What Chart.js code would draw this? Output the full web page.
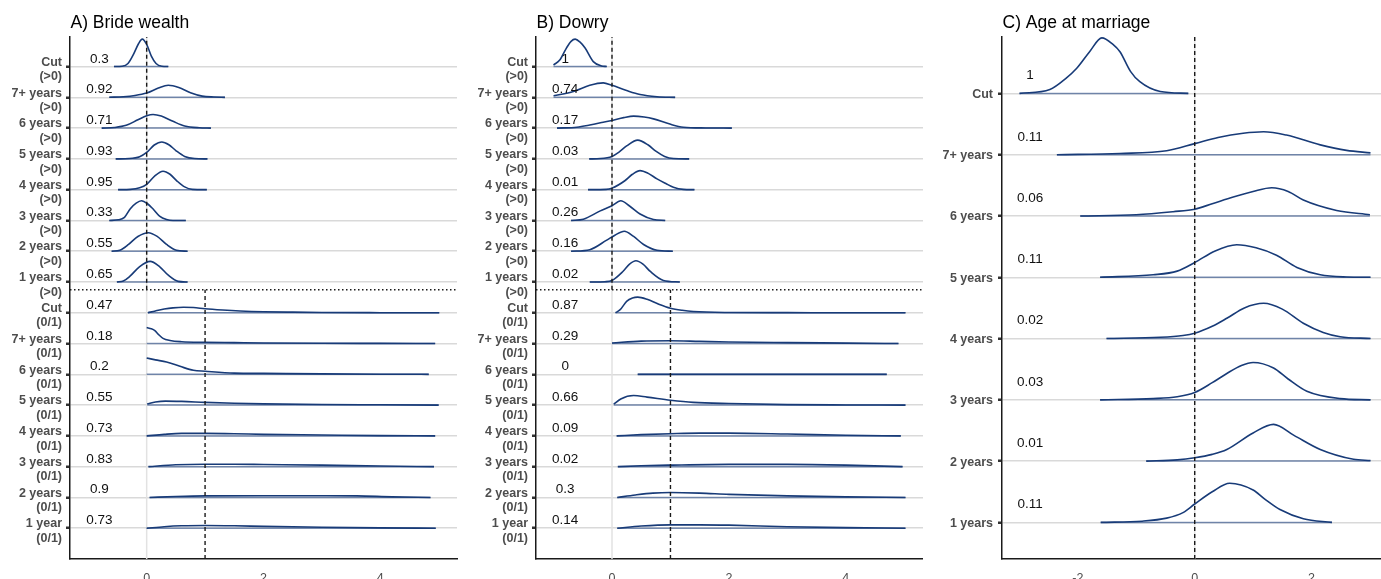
<!DOCTYPE html>
<html>
<head>
<meta charset="utf-8">
<script src="https://cdn.jsdelivr.net/npm/chart.js@4.4.0/dist/chart.umd.min.js"></script>
<style>
  body { margin: 0; background: #fff; width: 1381px; height: 579px; overflow: hidden; position: relative; }
  canvas { position: absolute; top: 0; }
</style>
</head>
<body>
<canvas id="bw" width="460" height="579" style="left:0"></canvas>
<canvas id="dw" width="463" height="579" style="left:460px"></canvas>
<canvas id="am" width="458" height="579" style="left:923px"></canvas>
<script>
// ---- categories (top row first) ----
const rowsAB = [
  'Cut\n(>0)', '7+ years\n(>0)', '6 years\n(>0)', '5 years\n(>0)',
  '4 years\n(>0)', '3 years\n(>0)', '2 years\n(>0)', '1 years\n(>0)',
  'Cut\n(0/1)', '7+ years\n(0/1)', '6 years\n(0/1)', '5 years\n(0/1)',
  '4 years\n(0/1)', '3 years\n(0/1)', '2 years\n(0/1)', '1 year\n(0/1)'
];
const rowsC = ['Cut', '7+ years', '6 years', '5 years', '4 years', '3 years', '2 years', '1 years'];

// ---- probability labels ----
const bwP = [0.3, 0.92, 0.71, 0.93, 0.95, 0.33, 0.55, 0.65, 0.47, 0.18, 0.2, 0.55, 0.73, 0.83, 0.9, 0.73];
const dwP = [1, 0.74, 0.17, 0.03, 0.01, 0.26, 0.16, 0.02, 0.87, 0.29, 0, 0.66, 0.09, 0.02, 0.3, 0.14];
const amP = [1, 0.11, 0.06, 0.11, 0.02, 0.03, 0.01, 0.11];

// ---- tick labels ----
const xTicksAB = [0, 2, 4];
const xTicksC = [-2, 0, 2];

// ---- A) Bride wealth densities: x positions and ridge heights (row units) ----
const bwX = [
  [-0.56, -0.42, -0.32, -0.22, -0.14, -0.075, 0, 0.08, 0.16, 0.26, 0.37],
  [-0.64, -0.4, -0.2, 0, 0.2, 0.37, 0.55, 0.75, 0.95, 1.15, 1.34],
  [-0.77, -0.55, -0.35, -0.15, 0, 0.11, 0.25, 0.45, 0.65, 0.9, 1.1],
  [-0.53, -0.3, -0.12, 0, 0.13, 0.26, 0.38, 0.5, 0.65, 0.82, 1.04],
  [-0.49, -0.28, -0.12, 0, 0.14, 0.28, 0.4, 0.52, 0.65, 0.78, 1.03],
  [-0.64, -0.48, -0.38, -0.28, -0.18, -0.09, 0.01, 0.11, 0.22, 0.34, 0.45, 0.67],
  [-0.6, -0.46, -0.31, -0.15, 0.03, 0.18, 0.34, 0.51, 0.7],
  [-0.51, -0.4, -0.29, -0.12, 0.06, 0.22, 0.37, 0.54, 0.7],
  [0.02, 0.15, 0.3, 0.45, 0.63, 0.8, 1.0, 1.3, 1.6, 2.0, 2.5, 3.0, 4.0, 5.01],
  [0, 0.08, 0.14, 0.2, 0.28, 0.4, 0.6, 1.0, 1.5, 2.0, 3.0, 4.0, 4.94],
  [0, 0.15, 0.34, 0.57, 0.8, 1.0, 1.5, 2.0, 3.0, 4.0, 4.83],
  [0.01, 0.15, 0.32, 0.6, 1.0, 1.5, 2.0, 3.0, 4.0, 5.0],
  [0, 0.3, 0.6, 1.0, 1.5, 2.0, 3.0, 4.0, 4.94],
  [0.03, 0.5, 1.0, 1.5, 2.0, 3.0, 4.0, 4.92],
  [0.05, 0.5, 1.0, 2.0, 3.0, 3.6, 4.2, 4.86],
  [0, 0.3, 0.6, 1.0, 1.5, 2.0, 3.0, 4.0, 4.95]
];
const bwH = [
  [0, 0.01, 0.1, 0.42, 0.74, 0.89, 0.72, 0.34, 0.1, 0.01, 0],
  [0, 0.02, 0.06, 0.14, 0.3, 0.39, 0.32, 0.15, 0.04, 0.01, 0],
  [0, 0.02, 0.09, 0.27, 0.4, 0.44, 0.39, 0.22, 0.07, 0.01, 0],
  [0, 0.01, 0.07, 0.21, 0.45, 0.55, 0.46, 0.27, 0.08, 0.01, 0],
  [0, 0.01, 0.06, 0.17, 0.45, 0.6, 0.5, 0.28, 0.09, 0.01, 0],
  [0, 0.02, 0.1, 0.38, 0.56, 0.64, 0.55, 0.37, 0.14, 0.03, 0, 0],
  [0, 0.03, 0.22, 0.48, 0.6, 0.48, 0.22, 0.03, 0],
  [0, 0.03, 0.18, 0.5, 0.67, 0.5, 0.22, 0.02, 0],
  [0, 0.06, 0.12, 0.16, 0.18, 0.17, 0.13, 0.09, 0.06, 0.035, 0.02, 0.01, 0.003, 0],
  [0.52, 0.48, 0.42, 0.3, 0.17, 0.1, 0.06, 0.04, 0.03, 0.02, 0.01, 0.005, 0],
  [0.53, 0.47, 0.4, 0.26, 0.13, 0.1, 0.04, 0.03, 0.015, 0.005, 0],
  [0.04, 0.1, 0.13, 0.12, 0.09, 0.06, 0.04, 0.02, 0.01, 0],
  [0, 0.05, 0.08, 0.08, 0.07, 0.05, 0.03, 0.01, 0],
  [0, 0.06, 0.08, 0.08, 0.07, 0.05, 0.02, 0],
  [0, 0.03, 0.05, 0.055, 0.055, 0.05, 0.02, 0],
  [0, 0.05, 0.08, 0.09, 0.08, 0.06, 0.03, 0.01, 0]
];

// ---- B) Dowry densities ----
const dwX = [
  [-1.0, -0.89, -0.78, -0.7, -0.63, -0.55, -0.46, -0.32, -0.18, -0.09],
  [-1.0, -0.66, -0.38, -0.15, 0, 0.25, 0.48, 0.77, 1.08],
  [-0.94, -0.6, -0.38, -0.15, 0, 0.2, 0.37, 0.55, 0.71, 0.99, 1.22, 1.6, 2.05],
  [-0.39, -0.2, 0, 0.12, 0.25, 0.44, 0.62, 0.75, 0.9, 1.05, 1.32],
  [-0.41, -0.1, 0, 0.22, 0.35, 0.48, 0.62, 0.77, 0.92, 1.05, 1.22, 1.41],
  [-0.7, -0.49, -0.2, 0, 0.15, 0.3, 0.48, 0.71, 0.91],
  [-0.7, -0.38, -0.09, 0.05, 0.21, 0.37, 0.54, 0.77, 1.04],
  [-0.38, -0.12, 0, 0.19, 0.3, 0.41, 0.53, 0.65, 0.88, 1.16],
  [0.06, 0.14, 0.25, 0.35, 0.44, 0.6, 0.8, 1.0, 1.2, 1.39, 2.0, 3.0, 4.0, 5.02],
  [0, 0.5, 1.0, 1.5, 2.0, 3.0, 4.0, 4.9],
  [0.44, 4.7],
  [0.03, 0.15, 0.37, 0.6, 1.0, 1.39, 2.0, 3.0, 4.0, 5.02],
  [0.08, 0.5, 1.0, 1.5, 2.0, 3.0, 4.0, 4.94],
  [0.1, 0.5, 1.0, 2.0, 3.0, 4.0, 4.97],
  [0.09, 0.4, 0.7, 1.0, 1.5, 2.0, 3.0, 4.0, 5.02],
  [0.09, 0.5, 1.0, 1.5, 2.0, 3.0, 4.0, 5.02]
];
const dwH = [
  [0.05, 0.22, 0.6, 0.82, 0.89, 0.8, 0.6, 0.16, 0.02, 0],
  [0.05, 0.19, 0.39, 0.47, 0.39, 0.22, 0.09, 0.02, 0],
  [0, 0.03, 0.1, 0.19, 0.25, 0.34, 0.39, 0.36, 0.3, 0.13, 0.03, 0.005, 0],
  [0, 0.01, 0.08, 0.22, 0.42, 0.61, 0.45, 0.25, 0.08, 0.01, 0],
  [0, 0.01, 0.05, 0.29, 0.5, 0.62, 0.53, 0.35, 0.2, 0.08, 0.01, 0],
  [0, 0.04, 0.31, 0.48, 0.64, 0.47, 0.21, 0.03, 0],
  [0, 0.05, 0.36, 0.52, 0.65, 0.48, 0.22, 0.03, 0],
  [0, 0.01, 0.05, 0.35, 0.58, 0.69, 0.58, 0.35, 0.05, 0],
  [0, 0.1, 0.37, 0.48, 0.51, 0.44, 0.28, 0.15, 0.08, 0.04, 0.01, 0.004, 0.002, 0],
  [0.02, 0.08, 0.09, 0.07, 0.05, 0.03, 0.015, 0],
  [0, 0],
  [0.03, 0.2, 0.31, 0.26, 0.16, 0.09, 0.05, 0.015, 0.005, 0],
  [0, 0.04, 0.07, 0.09, 0.09, 0.06, 0.02, 0],
  [0, 0.03, 0.05, 0.075, 0.075, 0.05, 0],
  [0, 0.08, 0.14, 0.16, 0.14, 0.1, 0.05, 0.02, 0],
  [0, 0.07, 0.11, 0.11, 0.1, 0.05, 0.02, 0]
];

// ---- C) Age at marriage densities ----
const amX = [
  [-3.0, -2.48, -2.2, -2.02, -1.8, -1.59, -1.4, -1.28, -1.1, -0.94, -0.59, -0.11],
  [-2.36, -1.28, -0.48, 0, 0.4, 0.83, 1.18, 1.57, 2.15, 2.6, 3.01],
  [-1.96, -1.0, -0.37, 0, 0.3, 0.66, 1.0, 1.32, 1.6, 1.86, 2.43, 3.0],
  [-1.62, -0.71, -0.3, 0, 0.35, 0.72, 1.05, 1.4, 1.75, 2.15, 2.6, 3.01],
  [-1.51, -0.59, -0.2, 0, 0.3, 0.55, 0.85, 1.18, 1.5, 1.86, 2.2, 2.49, 3.01],
  [-1.62, -0.71, -0.3, 0, 0.3, 0.55, 0.8, 1.0, 1.35, 1.6, 1.92, 2.49, 3.01],
  [-0.83, -0.3, 0, 0.3, 0.55, 1.0, 1.35, 1.7, 2.15, 2.72, 3.01],
  [-1.61, -0.9, -0.48, -0.2, 0, 0.3, 0.6, 1.0, 1.2, 1.46, 1.86, 2.35]
];
const amH = [
  [0, 0.065, 0.25, 0.41, 0.68, 0.906, 0.8, 0.68, 0.36, 0.19, 0.03, 0],
  [0, 0.02, 0.065, 0.18, 0.28, 0.35, 0.375, 0.32, 0.16, 0.07, 0.03],
  [0, 0.02, 0.07, 0.11, 0.2, 0.31, 0.4, 0.46, 0.4, 0.26, 0.09, 0.02],
  [0, 0.04, 0.1, 0.24, 0.43, 0.53, 0.48, 0.36, 0.16, 0.04, 0.005, 0],
  [0, 0.02, 0.05, 0.087, 0.2, 0.33, 0.5, 0.575, 0.48, 0.25, 0.1, 0.03, 0],
  [0, 0.02, 0.05, 0.12, 0.28, 0.43, 0.56, 0.61, 0.52, 0.34, 0.14, 0.02, 0],
  [0, 0.02, 0.054, 0.11, 0.19, 0.46, 0.6, 0.42, 0.19, 0.03, 0.01],
  [0, 0.02, 0.07, 0.16, 0.3, 0.5, 0.64, 0.53, 0.38, 0.21, 0.06, 0]
];

const FONT = '"Liberation Sans", Arial, Helvetica, sans-serif';
const SPLIT_AB = 8.75;   // dotted separator between (>0) and (0/1) rows

const ridgeText = {
  id: 'ridgeText',
  afterDatasetsDraw(chart, args, opts) {
    const { ctx, chartArea } = chart;
    const x = chart.scales.x, y = chart.scales.y;
    ctx.save();
    ctx.fillStyle = '#000';
    ctx.font = '17.5px ' + FONT;
    ctx.textAlign = 'left';
    ctx.textBaseline = 'alphabetic';
    ctx.fillText(opts.title, chartArea.left + 0.5, 27.5);
    ctx.font = '13.5px ' + FONT;
    ctx.textAlign = 'center';
    ctx.textBaseline = 'middle';
    ctx.fillStyle = '#111';
    opts.pvals.forEach((p, i) => {
      ctx.fillText(String(p), x.getPixelForValue(opts.pX), y.getPixelForValue(opts.n - i + opts.pOff));
    });
    ctx.restore();
  }
};

function ridges(id, c) {
  const n = c.labels.length;
  const datasets = [];
  datasets.push({ data: [{ x: 0, y: c.yMin }, { x: 0, y: c.yMax }], borderColor: '#e2e2e2', borderWidth: 1.5, order: 5 });
  c.xs.forEach((xs, i) => {
    const base = n - i;
    datasets.push({
      data: [{ x: xs[0], y: base }, { x: xs[xs.length - 1], y: base }],
      borderColor: 'rgba(40,75,135,0.6)', borderWidth: 1.5, order: 4
    });
    datasets.push({
      data: xs.map((x, j) => ({ x: x, y: base + c.hs[i][j] })),
      borderColor: '#183b78', borderWidth: 1.6, cubicInterpolationMode: 'monotone', order: 3
    });
  });
  c.refs.forEach(r => datasets.push({ data: r.pts, borderColor: '#1a1a1a', borderWidth: 1.4, borderDash: r.dash, order: 1 }));

  new Chart(document.getElementById(id), {
    type: 'line',
    data: { datasets: datasets },
    options: {
      responsive: false,
      devicePixelRatio: 1,
      animation: false,
      layout: { padding: { top: 37, right: c.padRight, left: 0, bottom: 0 } },
      elements: { point: { radius: 0 }, line: { fill: false } },
      plugins: {
        legend: { display: false },
        tooltip: { enabled: false },
        ridgeText: { title: c.title, pvals: c.pvals, pX: c.pX, pOff: c.pOff, n: n }
      },
      scales: {
        x: {
          type: 'linear', min: c.xMin, max: c.xMax,
          afterBuildTicks: s => { s.ticks = c.xTicks.map(v => ({ value: v })); },
          grid: { display: false, drawTicks: false },
          border: { display: true, color: '#1a1a1a', width: 1.5 },
          ticks: { padding: 12, color: '#4d4d4d', font: { size: 12.5, family: FONT } },
          afterFit: s => { s.height = 20; }
        },
        y: {
          type: 'linear', min: c.yMin, max: c.yMax,
          afterBuildTicks: s => { s.ticks = c.labels.map((_, i) => ({ value: n - i })); },
          grid: { color: '#d9d9d9', lineWidth: 1.5, drawTicks: true, tickLength: 4, tickColor: '#333', tickWidth: 2.5 },
          border: { display: true, color: '#1a1a1a', width: 1.5 },
          ticks: {
            autoSkip: false, padding: c.labelPad, color: '#4d4d4d', labelOffset: c.labelShift,
            font: { size: 12.5, weight: 'bold', family: FONT, lineHeight: 1.15 },
            callback: v => c.labels[n - v].split('\n')
          },
          afterFit: s => { s.width = c.yWidth; }
        }
      }
    },
    plugins: [ridgeText]
  });
}

const refsAB = (xMin, xMax, yMax) => [
  { pts: [{ x: 0, y: SPLIT_AB }, { x: 0, y: yMax }], dash: [4, 3] },
  { pts: [{ x: 1, y: 0 }, { x: 1, y: SPLIT_AB }], dash: [4, 3] },
  { pts: [{ x: xMin, y: SPLIT_AB }, { x: xMax, y: SPLIT_AB }], dash: [1.5, 2.5] }
];

ridges('bw', {
  title: 'A) Bride wealth', labels: rowsAB, pvals: bwP, xs: bwX, hs: bwH,
  xMin: -1.313, xMax: 5.314, yMin: 0, yMax: 16.96, xTicks: xTicksAB,
  yWidth: 70, padRight: 3, labelPad: 4, labelShift: 3, pX: -0.81, pOff: 0.25,
  refs: refsAB(-1.313, 5.314, 16.96)
});
ridges('dw', {
  title: 'B) Dowry', labels: rowsAB, pvals: dwP, xs: dwX, hs: dwH,
  xMin: -1.30, xMax: 5.32, yMin: 0, yMax: 16.96, xTicks: xTicksAB,
  yWidth: 76, padRight: 0, labelPad: 4, labelShift: 3, pX: -0.80, pOff: 0.25,
  refs: refsAB(-1.30, 5.32, 16.96)
});
ridges('am', {
  title: 'C) Age at marriage', labels: rowsC, pvals: amP, xs: amX, hs: amH,
  xMin: -3.30, xMax: 3.19, yMin: 0.403, yMax: 8.92, xTicks: xTicksC,
  yWidth: 79, padRight: 0, labelPad: 5, labelShift: 1, pX: -2.82, pOff: 0.29,
  refs: [{ pts: [{ x: 0, y: 0.403 }, { x: 0, y: 8.92 }], dash: [4, 3] }]
});
</script>
</body>
</html>
